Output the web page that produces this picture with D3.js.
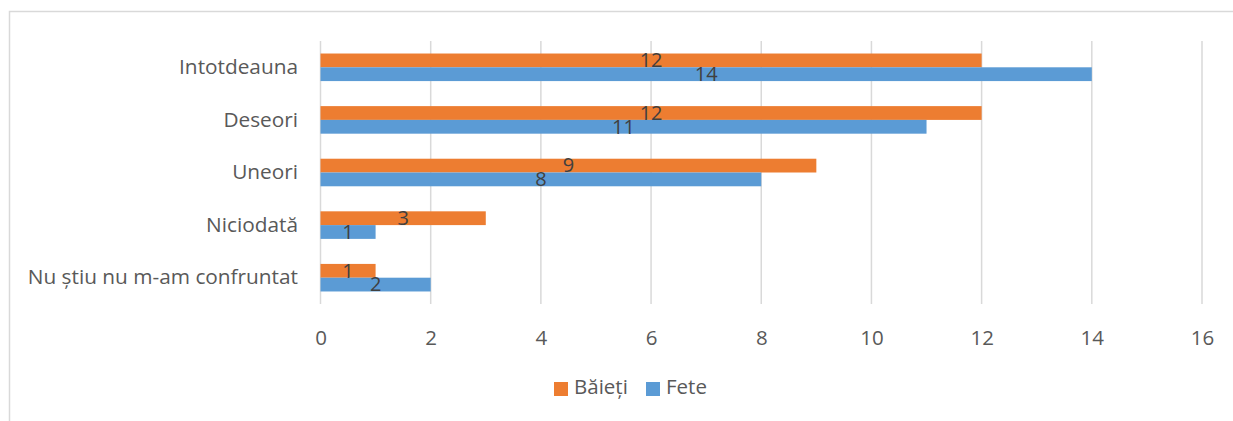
<!DOCTYPE html>
<html>
<head>
<meta charset="utf-8">
<script src="https://cdn.jsdelivr.net/npm/d3@7"></script>
<style>
  body { margin: 0; background: #fff; }
  svg { display: block; font-family: "Open Sans", sans-serif; }
</style>
</head>
<body>
<svg id="chart"></svg>
<script>
var categories = ["Intotdeauna", "Deseori", "Uneori", "Niciodată", "Nu știu nu m-am confruntat"];
var baieti = [12, 12, 9, 3, 1];
var fete = [14, 11, 8, 1, 2];
var seriesNames = ["Băieți", "Fete"];
var seriesColors = ["#ED7D31", "#5B9BD5"];
var xTicks = [0, 2, 4, 6, 8, 10, 12, 14, 16];

var width = 1233, height = 421;
var font = "'Open Sans', sans-serif";
var svg = d3.select("#chart").attr("width", width).attr("height", height);

// chart frame
svg.append("rect")
    .attr("x", 9.5).attr("y", 11.5)
    .attr("width", 1300).attr("height", 500)
    .attr("fill", "none").attr("stroke", "#D9D9D9").attr("stroke-width", 1.5);

var x = d3.scaleLinear().domain([0, 16]).range([320.5, 1202]);
var y = d3.scaleBand().domain(categories).range([41, 304]).paddingInner(0.476).paddingOuter(0.238);
var ySub = d3.scaleBand().domain(seriesNames).range([0, y.bandwidth()]);

// gridlines
svg.append("g").selectAll("line").data(xTicks).enter().append("line")
    .attr("x1", function(d){ return x(d); })
    .attr("x2", function(d){ return x(d); })
    .attr("y1", 41).attr("y2", 304)
    .attr("stroke", "#D9D9D9").attr("stroke-width", 1.5);

// x tick labels
var xAxis = svg.append("g").attr("transform", "translate(0,304)")
    .call(d3.axisBottom(x).tickValues(xTicks).tickSize(0).tickPadding(26));
xAxis.select(".domain").remove();
xAxis.selectAll("text").attr("font-size", 20.5).attr("fill", "#595959").style("font-family", font);

// category labels
var yAxis = svg.append("g").attr("transform", "translate(298,0)")
    .call(d3.axisLeft(y).tickSize(0).tickPadding(0));
yAxis.select(".domain").remove();
yAxis.selectAll("text").attr("font-size", 20.8).attr("fill", "#595959").style("font-family", font);

var rows = categories.map(function(c, i){ return {cat: c, vals: [baieti[i], fete[i]]}; });

var groups = svg.append("g").selectAll("g").data(rows).enter().append("g")
    .attr("transform", function(d){ return "translate(0," + y(d.cat) + ")"; });

groups.selectAll("rect").data(function(d){
    return d.vals.map(function(v, j){ return {name: seriesNames[j], v: v, j: j}; });
  }).enter().append("rect")
    .attr("x", x(0))
    .attr("y", function(d){ return ySub(d.name); })
    .attr("width", function(d){ return x(d.v) - x(0); })
    .attr("height", ySub.bandwidth())
    .attr("fill", function(d){ return seriesColors[d.j]; });

groups.selectAll("text").data(function(d){
    return d.vals.map(function(v, j){ return {name: seriesNames[j], v: v, j: j}; });
  }).enter().append("text")
    .attr("x", function(d){ return x(d.v / 2); })
    .attr("y", function(d){ return ySub(d.name) + ySub.bandwidth() / 2 + 1.5; })
    .attr("text-anchor", "middle")
    .attr("dominant-baseline", "middle")
    .attr("font-size", 20)
    .attr("fill", "#404040")
    .text(function(d){ return d.v; });

// legend
var legend = svg.append("g").attr("transform", "translate(554,382)");
var items = [{name: seriesNames[0], c: seriesColors[0], dx: 0}, {name: seriesNames[1], c: seriesColors[1], dx: 92}];
var li = legend.selectAll("g").data(items).enter().append("g")
    .attr("transform", function(d){ return "translate(" + d.dx + ",0)"; });
li.append("rect").attr("width", 14).attr("height", 14).attr("fill", function(d){ return d.c; });
li.append("text").attr("x", 20).attr("y", 7).attr("dominant-baseline", "middle")
    .attr("font-size", 20.5).attr("fill", "#595959")
    .text(function(d){ return d.name; });
</script>
</body>
</html>
